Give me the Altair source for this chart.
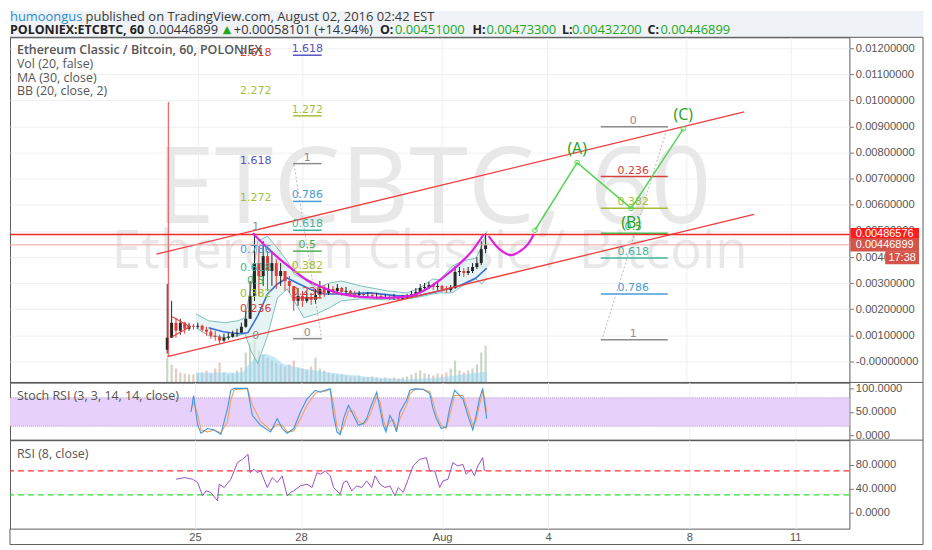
import altair as alt
import pandas as pd

# ============================================================ data
x_tick_values = [0, 3, 7, 10, 14, 17]          # days from 25 Jul 2016 00:00
x_tick_labels = ["25", "28", "Aug", "4", "8", "11"]
price_tick_values = [0.0, 0.001, 0.002, 0.003, 0.004, 0.005, 0.006,
                     0.007, 0.008, 0.009, 0.010, 0.011, 0.012]
stoch_tick_values = [0, 50, 100]
rsi_tick_values = [0, 40, 80]

header_line1 = ["humoongus", "published on TradingView.com, August 02, 2016 02:42 EST"]
header_line2 = ["POLONIEX:ETCBTC, 60", "0.00446899", "\u25B2", "+0.00058101 (+14.94%)",
                "O:", "0.00451000", "H:", "0.00473300", "L:", "0.00432200", "C:", "0.00446899"]
pane_labels = ["Ethereum Classic / Bitcoin, 60, POLONIEX", "Vol (20, false)",
               "MA (30, close)", "BB (20, close, 2)"]
stoch_label = "Stoch RSI (3, 3, 14, 14, close)"
rsi_label = "RSI (8, close)"
watermark = ["ETCBTC, 60", "Ethereum Classic / Bitcoin"]

# candles (prices in thousandths of a BTC), one every 3 hours
candle_first_hour = -21
candle_step_hours = 3
first_open_m = 0.45
close_m = [0.914, 1.486, 1.181, 1.486, 1.257, 1.371, 1.333, 1.371, 1.219, 1.143,
           0.990, 0.952, 0.800, 0.914, 0.952, 1.067, 1.105, 1.333, 1.638, 2.514,
           3.771, 3.276, 4.038, 3.467, 3.771, 3.276, 3.467, 3.086, 2.895, 2.324,
           2.514, 2.324, 2.476, 2.362, 2.552, 2.781, 2.629, 2.781, 2.705, 2.819,
           2.667, 2.705, 2.590, 2.552, 2.590, 2.552, 2.552, 2.514, 2.514, 2.476,
           2.476, 2.438, 2.476, 2.400, 2.438, 2.476, 2.590, 2.667, 2.819, 2.857,
           2.933, 2.857, 2.895, 2.781, 2.743, 2.819, 3.429, 3.467, 3.390, 3.467,
           3.619, 3.771, 4.305, 4.469]
high_m = [2.971, 2.324, 1.676, 1.638, 1.524, 1.486, 1.448, 1.486, 1.410, 1.333,
          1.257, 1.181, 1.029, 1.067, 1.105, 1.181, 1.257, 1.486, 1.943, 3.086,
          4.914, 4.419, 4.610, 4.229, 4.229, 3.924, 3.771, 3.467, 3.276, 2.895,
          2.819, 2.705, 2.705, 2.629, 2.781, 3.086, 2.933, 2.971, 2.895, 2.971,
          2.857, 2.857, 2.743, 2.705, 2.705, 2.667, 2.667, 2.629, 2.629, 2.590,
          2.590, 2.552, 2.590, 2.514, 2.552, 2.590, 2.705, 2.819, 2.971, 3.010,
          3.048, 3.010, 3.048, 2.933, 2.895, 2.933, 3.657, 3.619, 3.581, 3.619,
          3.771, 4.000, 4.610, 4.914]
low_m = [0.305, 0.914, 0.914, 1.029, 1.067, 1.181, 1.219, 1.257, 1.143, 0.990,
         0.876, 0.800, 0.686, 0.762, 0.838, 0.914, 0.952, 1.105, 1.295, 1.638,
         2.324, 2.514, 2.895, 2.705, 2.895, 2.781, 2.895, 2.705, 2.629, 1.943,
         2.133, 2.095, 2.248, 2.171, 2.210, 2.476, 2.476, 2.552, 2.552, 2.590,
         2.514, 2.552, 2.476, 2.438, 2.476, 2.438, 2.438, 2.438, 2.400, 2.400,
         2.400, 2.362, 2.362, 2.324, 2.362, 2.400, 2.438, 2.552, 2.629, 2.705,
         2.781, 2.743, 2.743, 2.667, 2.629, 2.667, 2.781, 3.276, 3.238, 3.314,
         3.390, 3.543, 3.695, 4.152]
volume_k = [25, 18, 14, 10, 9, 8, 8, 9, 10, 12,
            9, 14, 20, 10, 8, 9, 12, 15, 30, 40,
            42, 32, 28, 25, 22, 20, 18, 16, 18, 22,
            15, 14, 12, 16, 25, 14, 12, 10, 9, 8,
            8, 7, 6, 6, 7, 5, 5, 6, 5, 4,
            5, 4, 5, 4, 5, 6, 8, 10, 12, 9,
            8, 7, 9, 8, 10, 14, 22, 12, 10, 12,
            14, 18, 30, 37]

volma_day = [-0.056, 1.296, 1.380, 1.662, 1.944, 2.225, 2.423, 2.986, 3.746, 5.042, 6.000, 6.930, 7.859, 8.282]
volma_k = [10, 10, 15, 25, 29, 25, 19, 14, 10, 5, 3, 5, 9, 11]

ma_day = [0.31, 0.73, 1.155, 1.437, 1.718, 2.0, 2.282, 2.563, 2.845, 3.211, 3.606,
          4.113, 4.958, 5.718, 6.282, 6.930, 7.493, 7.972, 8.282]
ma_m = [1.295, 1.143, 1.067, 1.105, 1.752, 2.590, 2.971, 3.200, 3.010, 2.781, 2.590,
        2.590, 2.629, 2.514, 2.514, 2.705, 2.895, 3.200, 3.581]

bb_day = [-0.056, 0.310, 0.789, 1.155, 1.352, 1.521, 1.718, 2.000, 2.282, 2.563, 2.761,
          3.042, 3.408, 3.775, 4.113, 4.676, 5.437, 6.000, 6.366, 6.732, 6.930, 7.296,
          7.577, 7.972, 8.141, 8.282]
bb_upper_m = [1.829, 1.562, 1.486, 1.562, 1.676, 2.819, 4.610, 4.800, 4.343, 3.848, 3.352,
              3.162, 2.819, 3.010, 3.086, 2.895, 2.705, 2.629, 2.819, 3.162, 3.124, 3.657,
              3.848, 3.962, 4.419, 4.990]
bb_lower_m = [1.295, 0.990, 0.914, 0.990, 1.067, 0.419, -0.076, 0.990, 2.438, 2.781, 2.324,
              1.676, 1.829, 2.057, 2.324, 2.400, 2.362, 2.400, 2.476, 2.590, 2.629, 2.629,
              2.895, 3.162, 2.971, 3.200]

channel_upper_day = [-1.183, 15.662]
channel_upper_m = [4.114, 9.562]
channel_lower_day = [-0.873, 15.944]
channel_lower_m = [0.190, 5.638]
pennant_day = [-0.732, -0.225, -0.732]
pennant_m = [1.714, 1.333, 0.952]
marker_day = [-0.845]
marker_low_m = [0.190]
marker_high_m = [9.943]
resistance_price = [0.00486576]
last_price = [0.00446899]
countdown = ["17:38"]

cup_day = [1.577, 1.915, 2.282, 2.704, 3.127, 3.549, 4.113, 4.676, 5.437, 6.085, 6.563,
           7.014, 7.493, 7.859, 8.197]
cup_m = [4.914, 4.457, 4.000, 3.543, 3.124, 2.857, 2.590, 2.476, 2.438, 2.514, 2.781,
         3.200, 3.733, 4.229, 4.876]
handle_day = [8.338, 8.535, 8.761, 8.986, 9.239, 9.465, 9.634]
handle_m = [4.800, 4.457, 4.190, 4.076, 4.229, 4.495, 4.876]

wave_day = [9.662, 10.873, 12.423, 13.915]
wave_m = [5.029, 7.619, 5.867, 8.914]
wave_labels = ["", "(A)", "(B)", "(C)"]

fibA_levels = ["2.618", "2.272", "1.618", "1.272", "1", "0.786", "0.618", "0.5", "0.382", "0.236", "0"]
fibA_m = [11.810, 10.362, 7.695, 6.248, 5.143, 4.267, 3.581, 3.086, 2.590, 2.019, 0.990]
fibA_day = 1.66

fibB_levels = ["1.618", "1.272", "1", "0.786", "0.618", "0.5", "0.382", "0.236", "0"]
fibB_m = [11.733, 9.410, 7.581, 6.133, 5.029, 4.229, 3.429, 2.438, 0.876]
fibB_days = [2.73, 3.55]
fibB_label_day = 3.14
fibB_diag_day = [2.761, 3.549]
fibB_diag_m = [7.543, 0.876]

fibC_levels = ["0", "0.236", "0.382", "0.5", "0.618", "0.786", "1"]
fibC_m = [8.990, 7.086, 5.867, 4.914, 3.962, 2.590, 0.838]
fibC_days = [11.55, 13.47]
fibC_label_day = 12.48
fibC_diag_day = [11.577, 13.465]
fibC_diag_m = [0.800, 8.990]

stoch_day = [-0.113, -0.038, 0.075, 0.169, 0.357, 0.545, 0.732, 0.920, 1.014, 1.108,
             1.484, 1.624, 1.859, 2.141, 2.329, 2.469, 2.610, 2.798, 2.986, 3.174,
             3.408, 3.549, 3.690, 3.831, 3.925, 4.019, 4.113, 4.207, 4.347, 4.488,
             4.629, 4.770, 4.864, 4.958, 5.146, 5.239, 5.333, 5.408, 5.521, 5.615,
             5.709, 5.803, 5.991, 6.085, 6.225, 6.460, 6.648, 6.742, 6.836, 6.977,
             7.117, 7.211, 7.352, 7.587, 7.728, 7.869, 7.962, 8.056, 8.150, 8.197, 8.263]
stoch_k = [50, 85, 22, 5, 15, 12, 2.5, 57, 96, 100,
           100, 43, 22, 8, 36, 15, 5, 15, 50, 78,
           96, 92, 96, 99, 43, 8, 2.5, 36, 64, 43,
           22, 26, 36, 57, 92, 57, 22, 8, 43, 29,
           8, 50, 75, 96, 99, 98, 89, 57, 36, 15,
           19, 57, 96, 78, 43, 12, 43, 78, 100, 71, 36]
stoch_d = [55, 70, 45, 12, 8, 12, 6, 30, 75, 97,
           100, 65, 30, 12, 24, 22, 8, 10, 35, 65,
           90, 94, 94, 98, 65, 20, 5, 20, 52, 52,
           30, 24, 30, 45, 82, 72, 35, 14, 30, 34,
           15, 35, 65, 88, 98, 98, 93, 72, 45, 22,
           16, 40, 85, 85, 55, 22, 32, 65, 92, 82, 50]
stoch_band = [20, 80]

rsi_day = [-0.535, -0.301, -0.066, 0.075, 0.216, 0.310, 0.451, 0.638, 0.685, 0.826,
           1.014, 1.202, 1.343, 1.502, 1.559, 1.671, 1.765, 1.859, 1.953, 2.047,
           2.188, 2.329, 2.469, 2.610, 2.704, 2.798, 2.986, 3.174, 3.315, 3.455,
           3.549, 3.690, 3.831, 3.925, 4.113, 4.207, 4.300, 4.441, 4.582, 4.723,
           4.864, 5.005, 5.099, 5.239, 5.380, 5.521, 5.662, 5.756, 5.897, 6.038,
           6.178, 6.366, 6.554, 6.648, 6.789, 6.930, 7.023, 7.164, 7.305, 7.446,
           7.587, 7.681, 7.822, 7.915, 8.009, 8.150, 8.197]
rsi_values = [56.1, 58.9, 56.1, 50.6, 28.3, 36.7, 33.9, 20, 47.8, 42.2,
              56.1, 83.9, 89.4, 97.8, 67.2, 72.8, 67.2, 70, 56.1, 42.2,
              58.9, 50.6, 61.7, 28.3, 33.9, 36.7, 45, 47.8, 42.2, 67.2,
              64.4, 70, 61.7, 42.2, 31.1, 50.6, 53.3, 36.7, 45, 42.2,
              53.3, 42.2, 61.7, 47.8, 42.2, 45, 28.3, 42.2, 33.9, 56.1,
              78.3, 89.4, 92.2, 70, 70, 42.2, 53.3, 56.1, 83.9, 78.3,
              81.1, 64.4, 72.8, 61.7, 78.3, 92.2, 70]
rsi_levels = [70, 30]

# ============================================================ styles / layout
M = 0.001
W, H_MAIN, H_STOCH, H_RSI = 844, 347, 58, 89
FRAME_R = 918
X_DOMAIN = [-5.24, 18.535]
Y_DOMAIN = [-0.0008, 0.012419]
STOCH_DOMAIN = [-9.5, 112.6]
RSI_DOMAIN = [-26.7, 121.7]
VOL_DOMAIN = [0, 347]

GRID = "#eef0f3"
AXIS_TXT = "#555555"
FRAME = "#5c5c5c"
LABEL_FONT = "Liberation Sans"
UI_FONT = "Open Sans"
FIB_FONT = "DejaVu Sans"
fib_colors = {"0": "#8c8c8c", "0.236": "#d6403a", "0.382": "#a3bf3a", "0.5": "#4caf50",
              "0.618": "#3fb59e", "0.786": "#4a9bd6", "1": "#8c8c8c", "1.272": "#a3bf3a",
              "1.618": "#5252c4", "2.272": "#a3bf3a", "2.618": "#d6403a"}
fib_scale = alt.Scale(domain=list(fib_colors.keys()), range=list(fib_colors.values()))

one = pd.DataFrame({"k": [0]})

label_expr = "".join(f"datum.value == {v} ? '{t}' : " for v, t in zip(x_tick_values, x_tick_labels)) + "''"
XS = alt.Scale(domain=X_DOMAIN, nice=False, zero=False)
x_axis_grid = alt.Axis(values=x_tick_values, labels=False, ticks=False, domain=False,
                       grid=True, gridColor=GRID, title=None)
x_axis_bottom = alt.Axis(values=x_tick_values, labelExpr=label_expr, ticks=False, domain=False,
                         grid=True, gridColor=GRID, labelColor=AXIS_TXT, labelFont=LABEL_FONT,
                         labelFontSize=11.2, labelPadding=3, title=None)


def right_axis(values, grid, fmt=None, expr=None):
    kw = dict(orient="right", values=values, grid=grid, gridColor=GRID, domain=False,
              ticks=True, tickSize=4, tickColor="#777777", labelColor=AXIS_TXT,
              labelFont=LABEL_FONT, labelFontSize=11.2, labelPadding=2, title=None, zindex=0)
    if fmt:
        kw["format"] = fmt
    if expr:
        kw["labelExpr"] = expr
    return alt.Axis(**kw)


y_axis_main = right_axis(price_tick_values, True,
                         expr="datum.value == 0 ? '-0.00000000' : format(datum.value, '.8f')")
y_axis_stoch = right_axis(stoch_tick_values, False, fmt=".4f")
y_axis_rsi = right_axis(rsi_tick_values, False, fmt=".4f")
YS = alt.Scale(domain=Y_DOMAIN, nice=False, zero=False)
SS = alt.Scale(domain=STOCH_DOMAIN, nice=False, zero=False)
RS = alt.Scale(domain=RSI_DOMAIN, nice=False, zero=False)
VS = alt.Scale(domain=VOL_DOMAIN, nice=False, zero=True)


def xm(f="d", axis=x_axis_grid):
    return alt.X(f + ":Q", scale=XS, axis=axis, title=None)


def ym(f):
    return alt.Y(f + ":Q", scale=YS, axis=y_axis_main, title=None)


def ys(f):
    return alt.Y(f + ":Q", scale=SS, axis=y_axis_stoch, title=None)


def yr(f):
    return alt.Y(f + ":Q", scale=RS, axis=y_axis_rsi, title=None)


def pixel_text(txt, x, y, **style):
    return alt.Chart(one).mark_text(text=txt, align="left", baseline="middle", **style).encode(
        x=alt.value(x), y=alt.value(y))


def hrule(y, x1=0, x2=FRAME_R):
    return alt.Chart(one).mark_rule(color=FRAME, strokeWidth=1).encode(
        x=alt.value(x1), x2=alt.value(x2), y=alt.value(y))


def vrule(x, y1, y2):
    return alt.Chart(one).mark_rule(color=FRAME, strokeWidth=1).encode(
        x=alt.value(x), y=alt.value(y1), y2=alt.value(y2))


# ============================================================ header
H_HEAD = 27
green = "#22a822"
hx1 = [0, 76]
hx2 = [0, 139, 214, 225, 372, 387, 465, 479, 555, 565, 641, 654]
head_layers = [
    pixel_text(header_line1[0], hx1[0], 6.5, font=UI_FONT, fontSize=13, color="#2a8fd0"),
    pixel_text(header_line1[1], hx1[1], 6.5, font=UI_FONT, fontSize=13, color="#3a3a3a"),
]
for i, seg in enumerate(header_line2):
    if seg.endswith(":") or i == 0:
        st = dict(font=UI_FONT, fontSize=12.5, fontWeight="bold", color="#222222")
    elif i == 2:
        st = dict(font="DejaVu Sans", fontSize=11, color="#1faa1f")
    elif i in (1, 3):
        st = dict(font=UI_FONT, fontSize=13, color="#333333")
    else:
        st = dict(font=UI_FONT, fontSize=13, color=green)
    head_layers.append(pixel_text(seg, hx2[i], 19.5, **st))
header = alt.layer(*head_layers).properties(
    width=FRAME_R, height=H_HEAD,
    view=alt.ViewBackground(fill="#eff2f6", stroke="transparent"))

# ============================================================ main pane
n = len(close_m)
candles = pd.DataFrame({
    "d": [(candle_first_hour + candle_step_hours * i) / 24 for i in range(n)],
    "o": [first_open_m * M] + [c * M for c in close_m[:-1]],
    "h": [v * M for v in high_m],
    "l": [v * M for v in low_m],
    "c": [v * M for v in close_m],
    "v": volume_k,
})
updown = alt.condition("datum.c >= datum.o", alt.value("#262626"), alt.value("#e53935"))
vol_color = alt.condition("datum.c >= datum.o", alt.value("#b9c8b2"), alt.value("#e6b3ab"))

vol_bars = alt.Chart(candles).mark_bar(width=2.2, opacity=0.75).encode(
    x=xm(), y=alt.Y("v:Q", scale=VS, axis=None), color=vol_color)
vol_ma = alt.Chart(pd.DataFrame({"d": volma_day, "v": volma_k})).mark_area(
    color="#8fd3f4", opacity=0.5).encode(x=xm(), y=alt.Y("v:Q", scale=VS, axis=None))
vol_layer = alt.layer(vol_bars, vol_ma)

wm1 = alt.Chart(one).mark_text(text=watermark[0], font=UI_FONT, fontSize=107, color="#e8e8e8",
                               align="center", baseline="alphabetic").encode(
    x=alt.value(426), y=alt.value(187))
wm2 = alt.Chart(one).mark_text(text=watermark[1], font=UI_FONT, fontSize=53, color="#e8e8e8",
                               align="center", baseline="alphabetic").encode(
    x=alt.value(422), y=alt.value(232))

bb = pd.DataFrame({"d": bb_day, "up": [v * M for v in bb_upper_m], "lo": [v * M for v in bb_lower_m]})
bb_fill = alt.Chart(bb).mark_area(color="#d6efec", opacity=0.6).encode(x=xm(), y=ym("up"), y2=alt.Y2("lo"))
bb_up = alt.Chart(bb).mark_line(color="#5fb2aa", strokeWidth=0.8).encode(x=xm(), y=ym("up"))
bb_lo = alt.Chart(bb).mark_line(color="#5fb2aa", strokeWidth=0.8).encode(x=xm(), y=ym("lo"))
ma = alt.Chart(pd.DataFrame({"d": ma_day, "p": [v * M for v in ma_m]})).mark_line(
    color="#3b6fd6", strokeWidth=1.6).encode(x=xm(), y=ym("p"))

wicks = alt.Chart(candles).mark_rule(strokeWidth=1).encode(x=xm(), y=ym("l"), y2=alt.Y2("h"), color=updown)
bodies = alt.Chart(candles).mark_bar(width=3).encode(x=xm(), y=ym("o"), y2=alt.Y2("c"), color=updown)

channels = pd.DataFrame({
    "g": ["up", "up", "lo", "lo"],
    "d": channel_upper_day + channel_lower_day,
    "p": [v * M for v in channel_upper_m + channel_lower_m]})
channel_lines = alt.Chart(channels).mark_line(color="#f03c3c", strokeWidth=1.3).encode(
    x=xm(), y=ym("p"), detail="g:N")
pennant = alt.Chart(pd.DataFrame({"i": [0, 1, 2], "d": pennant_day, "p": [v * M for v in pennant_m]})
                    ).mark_line(color="#e84040", strokeWidth=1.2).encode(
    x=xm(), y=ym("p"), order="i:Q")
marker = alt.Chart(pd.DataFrame({"d": marker_day, "p1": [v * M for v in marker_low_m],
                                 "p2": [v * M for v in marker_high_m]})).mark_rule(
    color="#ef4444", strokeWidth=1).encode(x=xm(), y=ym("p1"), y2=alt.Y2("p2"))
res_line = alt.Chart(pd.DataFrame({"p": resistance_price})).mark_rule(
    color="#f42a2a", strokeWidth=1.5).encode(y=ym("p"))
last_line = alt.Chart(pd.DataFrame({"p": last_price})).mark_rule(
    color="#f3a0a0", strokeWidth=1).encode(y=ym("p"))

cup = alt.Chart(pd.DataFrame({"d": cup_day, "p": [v * M for v in cup_m]})).mark_line(
    color="#e01fe0", strokeWidth=2.2, interpolate="monotone").encode(x=xm(), y=ym("p"))
handle = alt.Chart(pd.DataFrame({"d": handle_day, "p": [v * M for v in handle_m]})).mark_line(
    color="#e01fe0", strokeWidth=2.2, interpolate="monotone").encode(x=xm(), y=ym("p"))

fib_color = alt.Color("lvl:N", scale=fib_scale, legend=None)
fibA = pd.DataFrame({"lvl": fibA_levels, "p": [v * M for v in fibA_m], "d": [fibA_day] * len(fibA_levels)})
fibA_txt = alt.Chart(fibA).mark_text(font=FIB_FONT, fontSize=11, align="center", baseline="middle").encode(
    x=xm(), y=ym("p"), text="lvl:N", color=fib_color)


def fib_set(levels, prices, days, label_day, diag_day, diag_m):
    df = pd.DataFrame({"lvl": levels, "p": [v * M for v in prices],
                       "d1": [days[0]] * len(levels), "d2": [days[1]] * len(levels),
                       "dl": [label_day] * len(levels)})
    diag = pd.DataFrame({"d": diag_day, "p": [v * M for v in diag_m]})
    return [
        alt.Chart(diag).mark_line(color="#a8a8a8", strokeWidth=0.8, strokeDash=[2, 2]).encode(
            x=xm(), y=ym("p")),
        alt.Chart(df).mark_rule(strokeWidth=1.5).encode(
            x=xm("d1"), x2=alt.X2("d2"), y=ym("p"), color=fib_color),
        alt.Chart(df).mark_text(font=FIB_FONT, fontSize=11, align="center", baseline="bottom", dy=-1).encode(
            x=xm("dl"), y=ym("p"), text="lvl:N", color=fib_color),
    ]


fibB_layers = fib_set(fibB_levels, fibB_m, fibB_days, fibB_label_day, fibB_diag_day, fibB_diag_m)
fibC_layers = fib_set(fibC_levels, fibC_m, fibC_days, fibC_label_day, fibC_diag_day, fibC_diag_m)

wave = pd.DataFrame({"d": wave_day, "p": [v * M for v in wave_m], "lab": wave_labels})
wave_line = alt.Chart(wave).mark_line(color="#57d457", strokeWidth=1.5).encode(x=xm(), y=ym("p"))
wave_pts = alt.Chart(wave).mark_point(color="#57d457", size=22, filled=False, strokeWidth=1, opacity=1).encode(
    x=xm(), y=ym("p"))
wave_txt_up = alt.Chart(wave).transform_filter("datum.lab == '(A)' || datum.lab == '(C)'").mark_text(
    font=UI_FONT, fontSize=16, color="#21a121", align="center", baseline="middle", dy=-14).encode(
    x=xm(), y=ym("p"), text="lab:N")
wave_txt_dn = alt.Chart(wave).transform_filter("datum.lab == '(B)'").mark_text(
    font=UI_FONT, fontSize=16, color="#21a121", align="center", baseline="middle", dy=15).encode(
    x=xm(), y=ym("p"), text="lab:N")

pane_txt = [
    pixel_text(pane_labels[0], 7, 13, font=UI_FONT, fontSize=12.5, fontWeight=600, color="#555555"),
    pixel_text(pane_labels[1], 7, 27, font=UI_FONT, fontSize=12.5, color="#555555"),
    pixel_text(pane_labels[2], 7, 41, font=UI_FONT, fontSize=12.5, color="#555555"),
    pixel_text(pane_labels[3], 7, 54, font=UI_FONT, fontSize=12.5, color="#555555"),
]

box_wide = "M-1,-0.19L1,-0.19L1,0.19L-1,0.19Z"
box_small = "M-1,-0.38L1,-0.38L1,0.38L-1,0.38Z"
res_df = pd.DataFrame({"p": resistance_price, "t": [f"{v:.8f}" for v in resistance_price]})
last_df = pd.DataFrame({"p": last_price, "t": [f"{v:.8f}" for v in last_price], "cd": countdown})
price_boxes = [
    alt.Chart(res_df).mark_point(shape=box_wide, size=4761, filled=True, color="#ff1c1c", opacity=1,
                                 strokeWidth=0).encode(x=alt.value(879.5), y=ym("p")),
    alt.Chart(res_df).mark_text(font=LABEL_FONT, fontSize=11, color="white", align="center",
                                baseline="middle").encode(x=alt.value(879.5), y=ym("p"), text="t:N"),
    alt.Chart(last_df).mark_point(shape=box_wide, size=4761, filled=True, color="#d4544a", opacity=1,
                                  strokeWidth=0).encode(x=alt.value(879.5), y=ym("p")),
    alt.Chart(last_df).mark_text(font=LABEL_FONT, fontSize=11, color="white", align="center",
                                 baseline="middle").encode(x=alt.value(879.5), y=ym("p"), text="t:N"),
    alt.Chart(last_df).mark_point(shape=box_small, size=1156, filled=True, color="#d4544a", opacity=1,
                                  strokeWidth=0, yOffset=13).encode(x=alt.value(897), y=ym("p")),
    alt.Chart(last_df).mark_text(font=LABEL_FONT, fontSize=11, color="white", align="center",
                                 baseline="middle", yOffset=13).encode(x=alt.value(897), y=ym("p"), text="cd:N"),
]

main_frame = [hrule(0), hrule(H_MAIN), vrule(FRAME_R, 0, H_MAIN)]

price_layer = alt.layer(
    wm1, wm2, bb_fill, bb_up, bb_lo, ma, wicks, bodies,
    channel_lines, pennant, marker, last_line, res_line, cup, handle,
    fibA_txt, *fibB_layers, *fibC_layers,
    wave_line, wave_pts, wave_txt_up, wave_txt_dn,
    *pane_txt, *price_boxes, *main_frame)

main = alt.layer(vol_layer, price_layer).resolve_scale(y="independent").properties(
    width=W, height=H_MAIN)

# ============================================================ stoch RSI pane
stoch = pd.DataFrame({"d": stoch_day, "k": stoch_k, "dd": stoch_d})
band = alt.Chart(pd.DataFrame({"lo": [stoch_band[0]], "hi": [stoch_band[1]]})).mark_rect(
    color="#e7d0fa").encode(x=alt.value(0), x2=alt.value(W), y=ys("lo"), y2=alt.Y2("hi"))
band_edges = alt.Chart(pd.DataFrame({"v": stoch_band})).mark_rule(
    color="#b3a4c2", strokeWidth=1, strokeDash=[1, 1]).encode(y=ys("v"))
d_line = alt.Chart(stoch).mark_line(color="#f5a15a", strokeWidth=1.1).encode(x=xm(), y=ys("dd"))
k_line = alt.Chart(stoch).mark_line(color="#3f98e0", strokeWidth=1.1).encode(x=xm(), y=ys("k"))
stoch_panel = alt.layer(
    band, band_edges, d_line, k_line,
    pixel_text(stoch_label, 7, 14, font=UI_FONT, fontSize=12.5, color="#555555"),
    hrule(H_STOCH), vrule(FRAME_R, 0, H_STOCH),
).properties(width=W, height=H_STOCH)

# ============================================================ RSI pane
rsi = pd.DataFrame({"d": rsi_day, "v": rsi_values})
rsi_hi = alt.Chart(pd.DataFrame({"v": [rsi_levels[0]]})).mark_rule(
    color="#ff3030", strokeWidth=1.3, strokeDash=[6, 4]).encode(y=yr("v"))
rsi_lo = alt.Chart(pd.DataFrame({"v": [rsi_levels[1]]})).mark_rule(
    color="#2fe02f", strokeWidth=1.3, strokeDash=[6, 4]).encode(y=yr("v"))
rsi_line = alt.Chart(rsi).mark_line(color="#9b4fc2", strokeWidth=1).encode(
    x=xm(axis=x_axis_bottom), y=yr("v"))
rsi_panel = alt.layer(
    rsi_hi, rsi_lo, rsi_line,
    pixel_text(rsi_label, 7, 14, font=UI_FONT, fontSize=12.5, color="#555555"),
    vrule(FRAME_R, 0, H_RSI + 16), hrule(H_RSI + 16), vrule(0, H_RSI, H_RSI + 16),
).properties(width=W, height=H_RSI)

chart = alt.vconcat(header, main, stoch_panel, rsi_panel, spacing=0, bounds="flush").properties(
    padding=0).configure(background="white").configure_view(stroke=FRAME, strokeWidth=1)

chart.save("out.html", embed_options={"renderer": "svg", "actions": False})
